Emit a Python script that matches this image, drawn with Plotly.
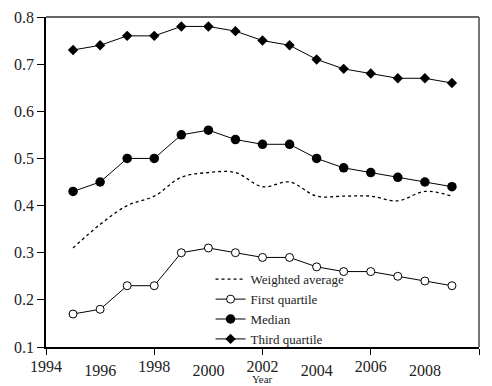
import plotly.graph_objects as go

years = list(range(1995, 2010))
weighted_average = [0.31, 0.36, 0.40, 0.42, 0.46, 0.47, 0.47, 0.44, 0.45, 0.42, 0.42, 0.42, 0.41, 0.43, 0.42]
first_quartile = [0.17, 0.18, 0.23, 0.23, 0.30, 0.31, 0.30, 0.29, 0.29, 0.27, 0.26, 0.26, 0.25, 0.24, 0.23]
median = [0.43, 0.45, 0.50, 0.50, 0.55, 0.56, 0.54, 0.53, 0.53, 0.50, 0.48, 0.47, 0.46, 0.45, 0.44]
third_quartile = [0.73, 0.74, 0.76, 0.76, 0.78, 0.78, 0.77, 0.75, 0.74, 0.71, 0.69, 0.68, 0.67, 0.67, 0.66]

ticks_upper = [1994, 1998, 2002, 2006, 2010]
ticks_lower = [1996, 2000, 2004, 2008]
y_ticks = [0.1, 0.2, 0.3, 0.4, 0.5, 0.6, 0.7, 0.8]
x_title = "Year"

FONT = "'Liberation Serif', 'Times New Roman', 'DejaVu Serif', serif"

fig = go.Figure()
fig.add_trace(go.Scatter(x=years, y=weighted_average, name="Weighted average", mode="lines",
                         line=dict(color="black", width=1.3, dash="dot", shape="spline")))
fig.add_trace(go.Scatter(x=years, y=first_quartile, name="First quartile", mode="lines+markers",
                         line=dict(color="black", width=1),
                         marker=dict(symbol="circle", size=8, color="white", line=dict(color="black", width=1))))
fig.add_trace(go.Scatter(x=years, y=median, name="Median", mode="lines+markers",
                         line=dict(color="black", width=1),
                         marker=dict(symbol="circle", size=9.5, color="black")))
fig.add_trace(go.Scatter(x=years, y=third_quartile, name="Third quartile", mode="lines+markers",
                         line=dict(color="black", width=1),
                         marker=dict(symbol="diamond", size=8, color="black")))
# invisible helper trace so the staggered second tick-label row gets drawn
fig.add_trace(go.Scatter(x=years, y=median, xaxis="x2", yaxis="y", mode="lines",
                         line=dict(width=0, color="rgba(0,0,0,0)"), showlegend=False,
                         hoverinfo="skip"))

fig.update_layout(
    width=492, height=386,
    margin=dict(l=46, r=13, t=17, b=39, autoexpand=False),
    paper_bgcolor="white", plot_bgcolor="white",
    font=dict(family=FONT, color="#222", size=16),
    showlegend=True,
    legend=dict(x=0.38, y=-0.022, xanchor="left", yanchor="bottom",
                bgcolor="rgba(0,0,0,0)", font=dict(size=13, family=FONT, color="#222"),
                tracegroupgap=0, itemwidth=30),
    xaxis=dict(range=[1994, 2010], tickvals=ticks_upper, ticktext=[str(t) for t in ticks_upper],
               showgrid=False, zeroline=False, showline=True, linecolor="black", linewidth=1.5,
               ticks="outside", ticklen=6, tickcolor="black", tickwidth=1,
               tickfont=dict(size=16, family=FONT), ticklabelstandoff=-2),
    xaxis2=dict(range=[1994, 2010], overlaying="x", anchor="y", side="bottom",
                tickvals=ticks_lower, ticktext=[str(t) for t in ticks_lower],
                showgrid=False, zeroline=False, showline=False, ticks="",
                tickfont=dict(size=16, family=FONT), ticklabelstandoff=12),
    yaxis=dict(range=[0.1, 0.8], tickvals=y_ticks, tickformat=".1f",
               showgrid=False, zeroline=False, showline=True, linecolor="black", linewidth=1.5,
               ticks="outside", ticklen=7, tickcolor="black", tickwidth=1,
               tickfont=dict(size=16, family=FONT)),
    annotations=[
        dict(text=x_title, xref="x domain", yref="y domain", x=0.5, y=0,
             xanchor="center", yanchor="bottom", yshift=-39, showarrow=False,
             borderpad=0, font=dict(size=11, family=FONT, color="#222")),
    ],
    shapes=[
        dict(type="line", xref="x domain", yref="y domain", x0=0, x1=1, y0=1, y1=1,
             line=dict(color="#666", width=2)),
        dict(type="line", xref="x domain", yref="y domain", x0=1, x1=1, y0=0, y1=1,
             line=dict(color="#777", width=2)),
    ],
)

fig.write_html("out.html")
